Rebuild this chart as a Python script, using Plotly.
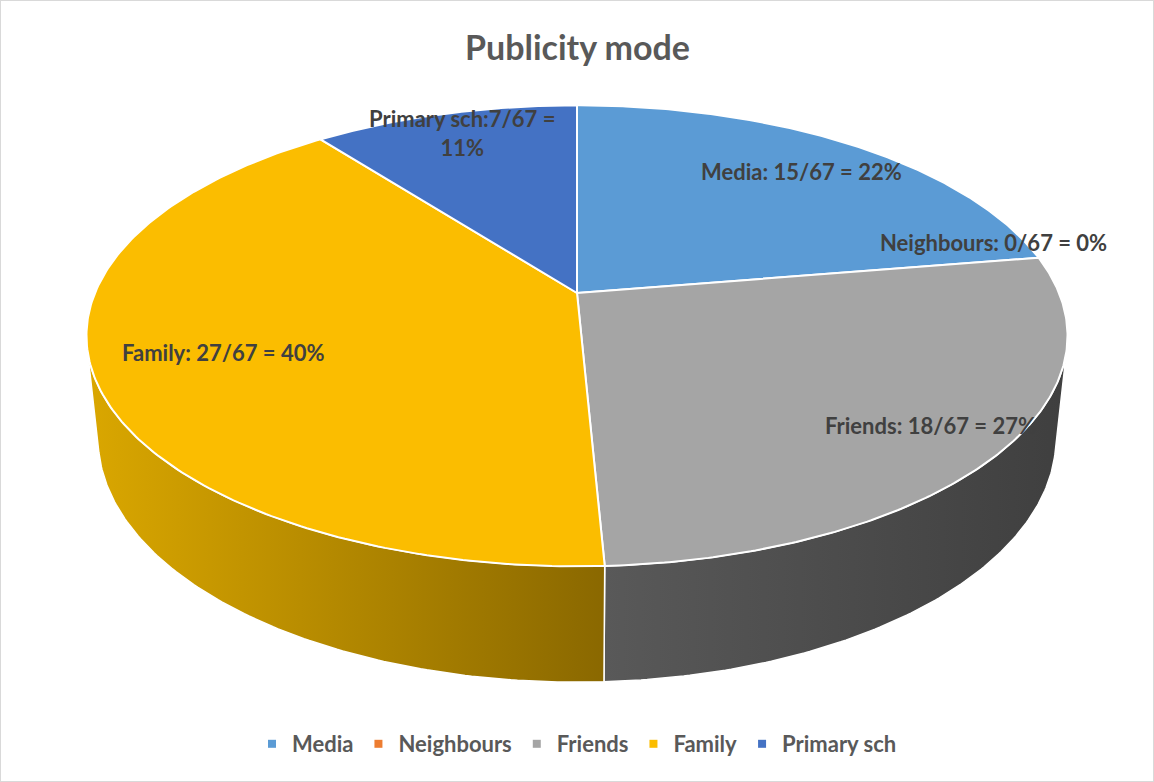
import numpy as np
import plotly.graph_objects as go

# ---- data -------------------------------------------------------------
categories = ["Media", "Neighbours", "Friends", "Family", "Primary sch"]
counts = [15, 0, 18, 27, 7]
total = 67
label_texts = [
    "Media: 15/67 = 22%",
    "Neighbours: 0/67 = 0%",
    "Friends: 18/67 = 27%",
    "Family: 27/67 = 40%",
    "Primary sch:7/67 =<br>11%",
]
top_colors = ["#5b9bd5", "#ed7d31", "#a5a5a5", "#fbbd00", "#4472c4"]
# side-wall shading (left -> right) for the lit 3D rim
side_colors = [
    ("#4a7fb0", "#3a6690"),
    ("#c46626", "#9c501e"),
    ("#595959", "#3f3f3f"),
    ("#daa700", "#8a6800"),
    ("#37609f", "#2a4a7c"),
]

# ---- 3D pie geometry (perspective camera) -----------------------------
CX, CY = 577.0, 293.0          # projected pie centre (px)
TILT = np.radians(27.5)        # camera elevation
DIST = 4.78                    # camera distance (in pie radii)
FOCAL = 2304.0                 # focal length (px per unit)
THICK = 0.242                  # pie thickness (in pie radii)
label_radius = [0.80, 0.90, 0.85, 0.745, 0.85]
label_yshift = [0, 19, 0, 0, 4]


def project(theta_deg, r, z):
    th = np.radians(np.asarray(theta_deg, dtype=float))
    X = r * np.sin(th)
    Y = r * np.cos(th)
    yc = Y * np.sin(TILT) + z * np.cos(TILT)
    d = DIST + Y * np.cos(TILT) - z * np.sin(TILT)
    return CX + FOCAL * X / d, CY - FOCAL * yc / d


angles = 360.0 * np.cumsum([0] + counts) / total
starts, ends = angles[:-1], angles[1:]

# visible part of the rim lies between the two silhouette angles
sil = np.degrees(np.arccos(-1.0 / (DIST * np.cos(TILT))))
vis_lo, vis_hi = sil, 360.0 - sil

fig = go.Figure()

# rim (side walls)
for i, cat in enumerate(categories):
    a, b = max(starts[i], vis_lo), min(ends[i], vis_hi)
    if b <= a:
        continue
    t = np.linspace(a, b, 120)
    xt, yt = project(t, 1.0, 0.0)
    xb, yb = project(t[::-1], 1.0, -THICK)
    xs = np.concatenate([xt, xb, xt[:1]])
    ys = np.concatenate([yt, yb, yt[:1]])
    fig.add_trace(go.Scatter(
        x=xs, y=ys, mode="lines", fill="toself",
        line=dict(color="white", width=1.5),
        fillgradient=dict(type="horizontal",
                          colorscale=[[0, side_colors[i][0]], [1, side_colors[i][1]]],
                          start=float(xs.min()), stop=float(xs.max())),
        showlegend=False, hoverinfo="skip",
    ))

# top faces
for i, cat in enumerate(categories):
    if counts[i] == 0:
        continue
    t = np.linspace(starts[i], ends[i], 200)
    xa, ya = project(t, 1.0, 0.0)
    xc, yc = project(0.0, 0.0, 0.0)
    xs = np.concatenate([[xc], xa, [xc]])
    ys = np.concatenate([[yc], ya, [yc]])
    fig.add_trace(go.Scatter(
        x=xs, y=ys, mode="lines", fill="toself", fillcolor=top_colors[i],
        line=dict(color="white", width=2),
        showlegend=False, hoverinfo="skip",
    ))

# legend entries
for i, cat in enumerate(categories):
    fig.add_trace(go.Scatter(
        x=[None], y=[None], mode="markers", name=cat,
        marker=dict(symbol="square", size=8, color=top_colors[i]),
    ))

# data labels
FONT = "Lato"
for i, txt in enumerate(label_texts):
    mid = 0.5 * (starts[i] + ends[i])
    lx, ly = project(mid, label_radius[i], 0.0)
    fig.add_annotation(
        x=float(lx), y=float(ly), text=txt, showarrow=False,
        yshift=label_yshift[i],
        font=dict(family=FONT, size=22, color="#404040", weight="bold"),
        align="center",
    )

fig.add_annotation(
    x=577, y=46, text="Publicity mode", showarrow=False,
    font=dict(family=FONT, size=34, color="#595959", weight="bold"),
)

fig.add_shape(type="rect", xref="paper", yref="paper", x0=0, y0=0, x1=1, y1=1,
              line=dict(color="#d9d9d9", width=2))

fig.update_layout(
    width=1154, height=782,
    margin=dict(l=0, r=0, t=0, b=0),
    paper_bgcolor="white", plot_bgcolor="white",
    xaxis=dict(range=[0, 1154], visible=False, fixedrange=True),
    yaxis=dict(range=[782, 0], visible=False, fixedrange=True),
    legend=dict(orientation="h", x=0.5, xanchor="center",
                y=1 - 744 / 782, yanchor="middle",
                font=dict(family=FONT, size=22, color="#595959", weight="bold"),
                itemwidth=30, bgcolor="rgba(0,0,0,0)"),
    showlegend=True,
)

fig.write_html("out.html")
